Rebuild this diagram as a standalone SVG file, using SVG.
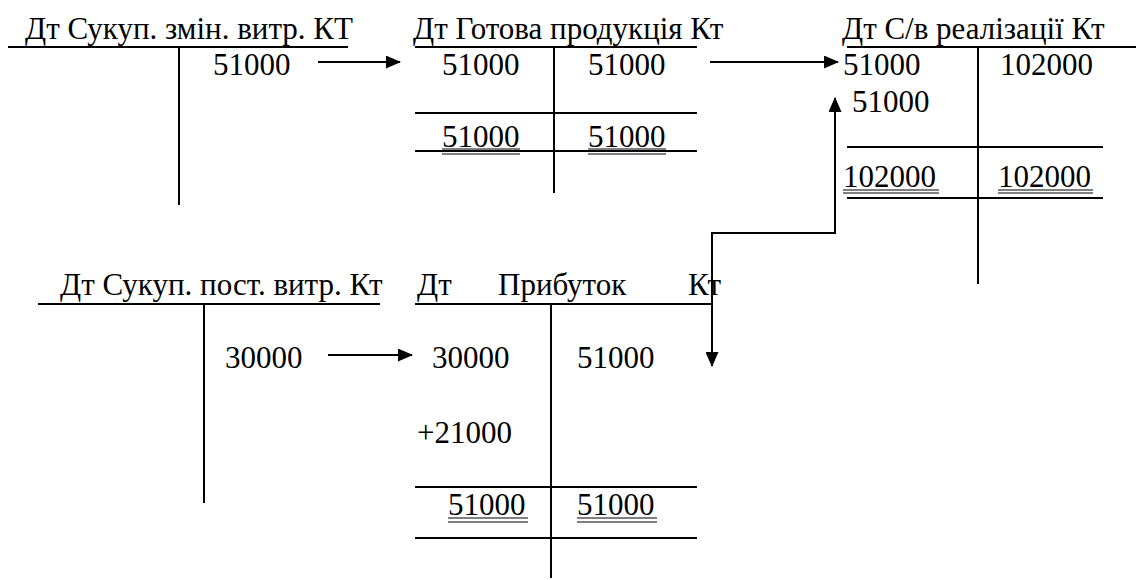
<svg xmlns="http://www.w3.org/2000/svg" width="1136" height="580" viewBox="0 0 1136 580">
<defs>
<marker id="ah" viewBox="0 0 15 13" refX="14" refY="6.5" markerWidth="15" markerHeight="13" orient="auto-start-reverse" markerUnits="userSpaceOnUse">
<path d="M0,0 L15,6.5 L0,13 z" fill="#000"/>
</marker>
</defs>
<rect width="1136" height="580" fill="#fff"/>
<g fill="#000">
<g id="acc-var-costs">
<text x="25" y="39" font-family="Liberation Serif" font-size="31" style="font-family:'Liberation Serif',serif;font-size:31px">Дт Сукуп. змін. витр. КТ</text>
<text x="213" y="75" font-family="Liberation Serif" font-size="31" style="font-family:'Liberation Serif',serif;font-size:31px">51000</text>
</g>
<g id="acc-finished-goods">
<text x="413" y="39" font-family="Liberation Serif" font-size="31" style="font-family:'Liberation Serif',serif;font-size:31px">Дт Готова продукція Кт</text>
<text x="442" y="75" font-family="Liberation Serif" font-size="31" style="font-family:'Liberation Serif',serif;font-size:31px">51000</text>
<text x="588" y="75" font-family="Liberation Serif" font-size="31" style="font-family:'Liberation Serif',serif;font-size:31px">51000</text>
<text x="442" y="147" font-family="Liberation Serif" font-size="31" style="font-family:'Liberation Serif',serif;font-size:31px">51000</text>
<text x="588" y="147" font-family="Liberation Serif" font-size="31" style="font-family:'Liberation Serif',serif;font-size:31px">51000</text>
</g>
<g id="acc-cost-of-sales">
<text x="842" y="39" font-family="Liberation Serif" font-size="31" style="font-family:'Liberation Serif',serif;font-size:31px">Дт  С/в реалізації Кт</text>
<text x="843" y="75" font-family="Liberation Serif" font-size="31" style="font-family:'Liberation Serif',serif;font-size:31px">51000</text>
<text x="1000" y="75" font-family="Liberation Serif" font-size="31" style="font-family:'Liberation Serif',serif;font-size:31px">102000</text>
<text x="852" y="112" font-family="Liberation Serif" font-size="31" style="font-family:'Liberation Serif',serif;font-size:31px">51000</text>
<text x="843" y="187" font-family="Liberation Serif" font-size="31" style="font-family:'Liberation Serif',serif;font-size:31px">102000</text>
<text x="998" y="187" font-family="Liberation Serif" font-size="31" style="font-family:'Liberation Serif',serif;font-size:31px">102000</text>
</g>
<g id="acc-fixed-costs">
<text x="60" y="295" font-family="Liberation Serif" font-size="31" style="font-family:'Liberation Serif',serif;font-size:31px">Дт Сукуп. пост. витр. Кт</text>
<text x="225" y="368" font-family="Liberation Serif" font-size="31" style="font-family:'Liberation Serif',serif;font-size:31px">30000</text>
</g>
<g id="acc-profit">
<text x="417" y="295" font-family="Liberation Serif" font-size="31" style="font-family:'Liberation Serif',serif;font-size:31px">Дт</text>
<text x="498" y="295" font-family="Liberation Serif" font-size="31" style="font-family:'Liberation Serif',serif;font-size:31px">Прибуток</text>
<text x="688" y="295" font-family="Liberation Serif" font-size="31" style="font-family:'Liberation Serif',serif;font-size:31px">Кт</text>
<text x="432" y="368" font-family="Liberation Serif" font-size="31" style="font-family:'Liberation Serif',serif;font-size:31px">30000</text>
<text x="577" y="368" font-family="Liberation Serif" font-size="31" style="font-family:'Liberation Serif',serif;font-size:31px">51000</text>
<text x="417" y="443" font-family="Liberation Serif" font-size="31" style="font-family:'Liberation Serif',serif;font-size:31px">+21000</text>
<text x="448" y="515" font-family="Liberation Serif" font-size="31" style="font-family:'Liberation Serif',serif;font-size:31px">51000</text>
<text x="577" y="515" font-family="Liberation Serif" font-size="31" style="font-family:'Liberation Serif',serif;font-size:31px">51000</text>
</g>
</g>
<g stroke="#000" stroke-width="2" fill="none">
<g id="acc-var-costs-lines">
<line x1="8" y1="47" x2="348" y2="47"/>
<line x1="179" y1="47" x2="179" y2="205"/>
</g>
<g id="acc-finished-goods-lines">
<line x1="415" y1="47" x2="697" y2="47"/>
<line x1="554" y1="47" x2="554" y2="193"/>
<line x1="415" y1="113" x2="697" y2="113"/>
<line x1="415" y1="151" x2="697" y2="151"/>
<g stroke-width="1">
<line x1="442" y1="149" x2="520" y2="149"/>
<line x1="442" y1="154" x2="520" y2="154"/>
<line x1="588" y1="149" x2="666" y2="149"/>
<line x1="588" y1="154" x2="666" y2="154"/>
</g>
</g>
<g id="acc-cost-of-sales-lines">
<line x1="847" y1="47" x2="1136" y2="47"/>
<line x1="978" y1="47" x2="978" y2="284"/>
<line x1="847" y1="147" x2="1103" y2="147"/>
<line x1="847" y1="198" x2="1103" y2="198"/>
<g stroke-width="1">
<line x1="843" y1="190" x2="939" y2="190"/>
<line x1="843" y1="193" x2="939" y2="193"/>
<line x1="998" y1="190" x2="1093" y2="190"/>
<line x1="998" y1="193" x2="1093" y2="193"/>
</g>
</g>
<g id="acc-fixed-costs-lines">
<line x1="38" y1="304" x2="380" y2="304"/>
<line x1="204" y1="304" x2="204" y2="503"/>
</g>
<g id="acc-profit-lines">
<line x1="415" y1="304" x2="712" y2="304"/>
<line x1="551" y1="304" x2="551" y2="578"/>
<line x1="415" y1="487" x2="697" y2="487"/>
<line x1="415" y1="538" x2="697" y2="538"/>
<g stroke-width="1">
<line x1="448" y1="518" x2="528" y2="518"/>
<line x1="448" y1="522" x2="528" y2="522"/>
<line x1="577" y1="518" x2="657" y2="518"/>
<line x1="577" y1="522" x2="657" y2="522"/>
</g>
</g>
<g id="connectors">
<line x1="318" y1="62" x2="400" y2="62" marker-end="url(#ah)"/>
<line x1="710" y1="62" x2="838" y2="62" marker-end="url(#ah)"/>
<line x1="328" y1="355" x2="412" y2="355" marker-end="url(#ah)"/>
<polyline points="712,366 712,233 835,233 835,98" marker-start="url(#ah)" marker-end="url(#ah)"/>
</g>
</g>
</svg>
